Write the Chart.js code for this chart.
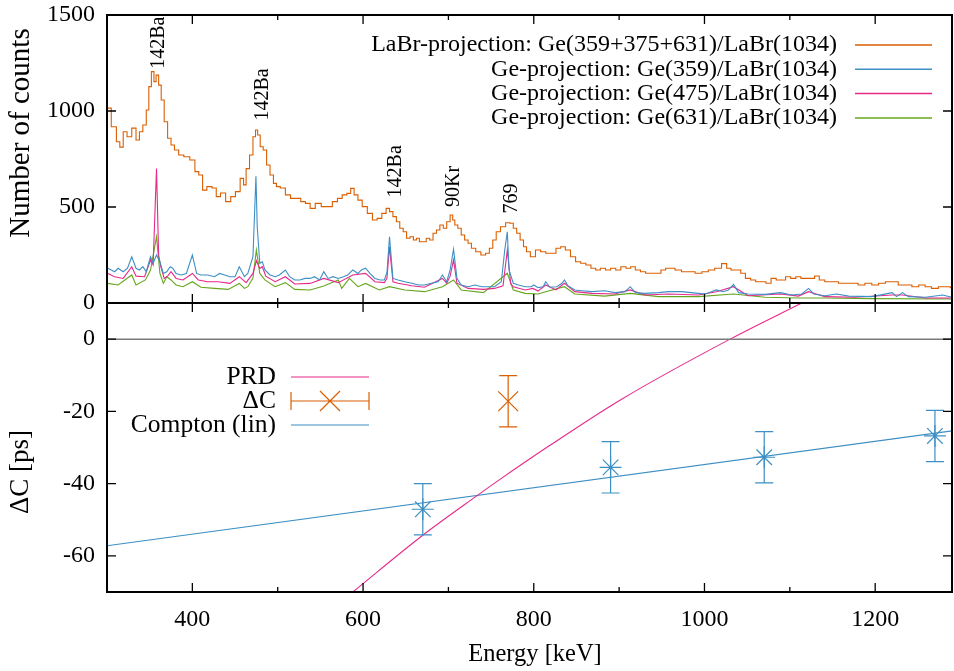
<!DOCTYPE html>
<html>
<head>
<meta charset="utf-8">
<script src="https://cdn.jsdelivr.net/npm/chart.js@4.4.1/dist/chart.umd.min.js"></script>
<style>
html,body{margin:0;padding:0;background:#fff;}
#wrap{position:relative;width:954px;height:671px;}
canvas{position:absolute;left:0;top:0;}
</style>
</head>
<body>
<div id="wrap">
<canvas id="spec" width="954" height="671"></canvas>
<canvas id="dc" width="954" height="671"></canvas>
</div>
<script>
// spectra (energy in keV, counts)
const orangeE = [301,309,313,317,321,326,332,336,340,344,
  348,350,354,356,359,362,365,369,373,377,
  381,387,393,401,405,410,414,420,426,430,
  436,442,448,453,459,461,465,469,473,475,
  478,481,485,489,493,497,500,506,512,518,
  524,530,535,541,547,555,561,567,573,578,
  584,587,592,596,602,608,614,619,625,629,
  633,637,641,645,649,653,657,661,664,668,
  672,676,680,684,688,692,696,700,704,706,
  709,713,717,721,725,729,735,741,746,750,
  754,758,764,770,774,778,782,786,790,793,
  799,805,811,817,823,829,834,840,846,852,
  858,864,870,875,881,887,893,899,905,911,
  916,922,928,934,940,946,952,957,962,969,
  977,985,993,1001,1008,1016,1024,1028,1034,1040,
  1045,1051,1057,1063,1069,1075,1081,1087,1092,1098,
  1104,1110,1116,1122,1126,1132,1137,1145,1153,1161,
  1169,1176,1184,1192,1200,1208,1216,1223,1231,1239,
  1247,1255,1262,1270,1278,1286,1290];
const orangeY = [1015,918,840,812,892,866,911,849,892,927,
  1005,1127,1205,1153,1187,1135,1057,944,858,823,
  797,771,762,745,684,667,588,606,599,554,
  573,528,554,580,649,615,700,771,866,901,
  875,814,797,719,667,623,606,599,563,545,
  545,528,519,493,519,502,502,528,545,563,
  571,597,563,536,502,467,432,441,467,493,
  476,450,423,389,371,337,345,328,337,319,
  319,337,328,363,380,406,389,423,458,432,
  406,389,354,328,311,285,267,250,259,285,
  328,371,397,418,415,389,363,328,293,267,
  241,276,267,259,259,285,293,276,241,215,
  207,198,181,172,181,172,181,172,189,181,
  189,172,163,155,155,155,172,181,181,172,
  163,163,155,163,172,181,205,181,172,172,
  155,128,120,111,111,103,128,120,120,137,
  128,137,128,128,128,141,120,111,111,103,
  103,103,94,103,94,103,111,111,94,94,
  85,94,85,76,85,85,80];

const blueE = [301,305,309,313,319,324,329,334,338,342,
  346,351,354,358,362,366,370,374,377,381,
  387,393,400,405,410,418,426,432,438,444,
  450,455,461,465,471,474.5,476,479,482,485,
  491,497,502,509,514,520,526,532,538,543,
  549,554,559,565,571,577,582,588,594,598,
  603,608,614,620,625,628,631,635,641,649,
  657,665,672,680,688,693,698,702,706,710,
  715,723,731,739,747,754,762,766,769,771,
  776,782,790,797,800,805,811,814,819,827,
  833,836,840,848,856,868,883,895,907,913,
  919,930,946,958,973,993,1001,1008,1014,1022,
  1028,1034,1040,1051,1071,1089,1102,1114,1122,1128,
  1141,1155,1169,1196,1220,1225,1232,1239,1259,1279,
  1290];
const blueY = [181,172,163,181,163,181,241,181,172,189,
  163,241,207,250,215,154,163,189,181,154,
  146,154,250,154,146,146,137,154,146,137,
  137,189,137,154,241,660,397,207,215,172,
  146,137,146,172,137,120,120,128,128,137,
  120,163,128,137,128,137,146,172,154,172,
  181,154,128,120,120,160,345,128,120,111,
  103,94,94,103,111,146,111,172,280,128,
  94,85,94,85,85,85,111,276,371,172,
  103,94,85,85,94,80,85,111,82,85,
  103,120,90,68,64,59,64,54,59,85,
  54,50,54,59,59,50,47,59,68,59,
  68,97,54,47,45,54,42,47,76,47,
  38,47,36,33,54,33,54,33,30,42,
  30];

const pinkE = [301,309,319,329,334,344,351,354,358,360.5,
  363,367,371,375,381,389,400,407,418,430,
  444,455,463,471,475,479,482,486,497,509,
  520,538,554,571,588,603,614,625,628,631,
  635,641,657,672,693,698,702,706,710,723,
  741,754,764,769,773,776,790,799,805,814,
  826,836,848,868,895,913,930,958,993,1014,
  1034,1051,1089,1110,1122,1141,1176,1220,1232,1259,
  1290];
const pinkY = [154,137,128,189,140,137,224,198,700,250,
  189,128,140,163,128,120,154,120,111,111,
  102,137,106,154,220,180,189,140,111,137,
  99,102,128,106,146,154,111,106,130,293,
  110,103,90,82,128,103,140,224,103,76,
  71,76,90,276,100,85,68,76,62,94,
  68,103,59,50,47,68,42,47,42,59,
  85,38,47,36,59,33,30,42,42,26,
  26];

const greenE = [301,313,329,334,345,351,358,362,366,370,
  375,381,389,400,410,426,442,455,461,465,
  471,475,479,485,497,509,520,538,554,571,
  575,584,594,603,619,631,649,672,693,706,
  715,741,769,776,790,805,814,836,848,883,
  913,946,993,1034,1071,1110,1141,1196,1290];
const greenY = [102,94,146,94,120,172,345,154,102,137,
  120,94,85,111,82,76,71,102,76,85,
  130,276,154,120,85,106,71,68,88,120,
  76,128,85,102,68,85,68,59,85,120,
  68,54,155,68,50,47,59,85,47,36,
  50,33,33,47,30,26,26,23,21];

const specLabels = ["LaBr-projection: Ge(359+375+631)/LaBr(1034)",
  "Ge-projection: Ge(359)/LaBr(1034)",
  "Ge-projection: Ge(475)/LaBr(1034)",
  "Ge-projection: Ge(631)/LaBr(1034)"];

// peak annotations (energy, counts at label foot)
const peakText = ["142Ba","142Ba","142Ba","90Kr","769"];
const peakE = [361, 482, 638, 706, 774];
const peakCounts = [1220, 950, 550, 500, 466];

// delta C panel
const prdE = [588, 670, 732, 760, 819, 901, 1030, 1114];
const prdDC = [-70, -54.3, -43.6, -38.9, -29.4, -16.9, 0, 10];
const comptonE = [300, 1290];
const comptonDC = [-57.2, -25.4];
const ptsE = [670, 890, 1070, 1270];
const ptsDC = [-47.1, -35.5, -32.7, -26.8];
const ptsErr = [7.1, 7.1, 7.1, 7.1];
const dcE = [770];
const dcVal = [-17.2];
const dcErr = [7.1];

// axis ticks
const energyTicks = [400,500,600,700,800,900,1000,1100,1200];
const countTicks = [0,500,1000,1500];
const dcTicks = [-60,-40,-20,0];

const ORANGE = "#d95f02", BLUE = "#3d8fc4", PINK = "#e7298a", GREEN = "#66a61e";
const FONT = '"Liberation Serif", "Times New Roman", serif';

Chart.defaults.font.family = FONT;
Chart.defaults.font.size = 24;
Chart.defaults.color = "#000";

const pts = (xs, ys) => xs.map((x, i) => ({ x: x, y: ys[i] }));
const setTicks = vals => s => { s.ticks = vals.map(v => ({ value: v })); };

// label gap comes from tickLength (hidden grid), so the scale adds no extra padding
function xAxis(showLabels, h){
    return {
        type:"linear", min:300, max:1290,
        grid:{display:false, drawTicks:true, tickLength:13},
        border:{display:false},
        ticks:{display:showLabels, autoSkip:false, maxRotation:0, padding:0,
            callback:v => v % 200 === 0 ? String(v) : ""},
        afterBuildTicks:setTicks(energyTicks),
        afterFit:s => { s.height = h; }
    };
}
function yAxis(min, max, vals){
    return {
        type:"linear", min:min, max:max,
        grid:{display:false, drawTicks:true, tickLength:12},
        border:{display:false},
        ticks:{padding:0, callback:v => String(v)},
        afterBuildTicks:setTicks(vals),
        afterFit:s => { s.width = 107; }
    };
}

// inward ticks + border (+ optional zero axis), like gnuplot
const frame = {
    id:"frame",
    afterDraw(chart, args, opts){
        const {ctx, chartArea:a, scales:{x, y}} = chart;
        ctx.save();
        if(opts.zero){
            const pz = y.getPixelForValue(0);
            ctx.strokeStyle = "#7a7a7a";
            ctx.lineWidth = 1.5;
            ctx.beginPath(); ctx.moveTo(a.left, pz); ctx.lineTo(a.right, pz); ctx.stroke();
        }
        ctx.strokeStyle = "#000";
        ctx.lineWidth = 1.3;
        ctx.beginPath();
        x.ticks.forEach(t => {
            const px = x.getPixelForValue(t.value);
            const len = t.value % 200 === 0 ? 9 : 5;
            ctx.moveTo(px, a.bottom); ctx.lineTo(px, a.bottom - len);
            ctx.moveTo(px, a.top); ctx.lineTo(px, a.top + len);
        });
        y.ticks.forEach(t => {
            const py = y.getPixelForValue(t.value);
            ctx.moveTo(a.left, py); ctx.lineTo(a.left + 9, py);
            ctx.moveTo(a.right, py); ctx.lineTo(a.right - 9, py);
        });
        ctx.stroke();
        ctx.lineWidth = 2;
        ctx.strokeRect(a.left, a.top, a.right - a.left, a.bottom - a.top);
        ctx.restore();
    }
};

const errorBars = {
    id:"errorBars",
    afterDatasetsDraw(chart){
        const {ctx, scales:{x, y}} = chart;
        chart.data.datasets.forEach(ds => {
            if(!ds.errors) return;
            ctx.save();
            ctx.strokeStyle = ds.borderColor;
            ctx.lineWidth = 1.2;
            ds.data.forEach((p, j) => {
                const px = x.getPixelForValue(p.x);
                const top = y.getPixelForValue(p.y + ds.errors[j]);
                const bot = y.getPixelForValue(p.y - ds.errors[j]);
                ctx.beginPath();
                ctx.moveTo(px, top); ctx.lineTo(px, bot);
                ctx.moveTo(px - 9, top); ctx.lineTo(px + 9, top);
                ctx.moveTo(px - 9, bot); ctx.lineTo(px + 9, bot);
                ctx.stroke();
            });
            ctx.restore();
        });
    }
};

const specDecor = {
    id:"specDecor",
    afterDraw(chart){
        const {ctx, scales:{x, y}} = chart;
        ctx.save();
        ctx.fillStyle = "#000";
        ctx.font = "20px " + FONT;
        ctx.textAlign = "left";
        ctx.textBaseline = "middle";
        peakText.forEach((t, i) => {
            ctx.save();
            ctx.translate(x.getPixelForValue(peakE[i]), y.getPixelForValue(peakCounts[i]));
            ctx.rotate(-Math.PI / 2);
            ctx.fillText(t, 0, 0);
            ctx.restore();
        });
        ctx.font = "24px " + FONT;
        ctx.textAlign = "right";
        chart.data.datasets.forEach((ds, i) => {
            const yy = 45 + i * 24.3;
            ctx.fillStyle = "#000";
            ctx.fillText(ds.label, 837, yy);
            ctx.strokeStyle = ds.borderColor;
            ctx.lineWidth = 1.5;
            ctx.beginPath(); ctx.moveTo(855, yy); ctx.lineTo(932, yy); ctx.stroke();
        });
        ctx.textAlign = "center";
        ctx.font = "29px " + FONT;
        ctx.translate(21, 133);
        ctx.rotate(-Math.PI / 2);
        ctx.fillText("Number of counts", 0, 0);
        ctx.restore();
    }
};

const dcDecor = {
    id:"dcDecor",
    afterDraw(chart){
        const ctx = chart.ctx;
        ctx.save();
        ctx.font = "25.5px " + FONT;
        ctx.fillStyle = "#000";
        ctx.textBaseline = "middle";
        ctx.textAlign = "right";
        ctx.fillText("PRD", 276, 377);
        ctx.fillText("\u0394C", 276, 401);
        ctx.fillText("Compton (lin)", 276, 425);
        ctx.lineWidth = 1.2;
        ctx.strokeStyle = PINK;
        ctx.beginPath(); ctx.moveTo(291, 377); ctx.lineTo(369, 377); ctx.stroke();
        ctx.strokeStyle = BLUE;
        ctx.beginPath(); ctx.moveTo(291, 425); ctx.lineTo(369, 425); ctx.stroke();
        ctx.strokeStyle = ORANGE;
        ctx.beginPath();
        ctx.moveTo(291, 401); ctx.lineTo(369, 401);
        ctx.moveTo(291, 392); ctx.lineTo(291, 410);
        ctx.moveTo(369, 392); ctx.lineTo(369, 410);
        ctx.moveTo(320, 391); ctx.lineTo(340, 411);
        ctx.moveTo(320, 411); ctx.lineTo(340, 391);
        ctx.stroke();
        ctx.textAlign = "center";
        ctx.font = "24.5px " + FONT;
        ctx.fillText("Energy [keV]", 535, 655);
        ctx.font = "27px " + FONT;
        ctx.translate(21, 472);
        ctx.rotate(-Math.PI / 2);
        ctx.fillText("\u0394C [ps]", 0, 0);
        ctx.restore();
    }
};

const lineDs = (label, xs, ys, color, stepped) => ({
    label, data:pts(xs, ys), showLine:true, borderColor:color, backgroundColor:color,
    borderWidth:1.1, pointRadius:0, tension:0, stepped:stepped
});

new Chart(document.getElementById("spec"), {
    type:"scatter",
    data:{
        datasets:[
            lineDs(specLabels[0], orangeE, orangeY, ORANGE, "middle"),
            lineDs(specLabels[1], blueE, blueY, BLUE, false),
            lineDs(specLabels[2], pinkE, pinkY, PINK, false),
            lineDs(specLabels[3], greenE, greenY, GREEN, false)
        ]
    },
    options:{
        responsive:false, animation:false, devicePixelRatio:1,
        layout:{autoPadding:false, padding:{top:15, right:2, left:0, bottom:0}},
        plugins:{legend:{display:false}, tooltip:{enabled:false}, frame:{zero:false}},
        scales:{
            x:xAxis(false, 368),
            y:yAxis(0, 1500, countTicks)
        }
    },
    plugins:[frame, specDecor]
});

const prdDs = lineDs("PRD", prdE, prdDC, PINK, false);
prdDs.cubicInterpolationMode = "monotone";

new Chart(document.getElementById("dc"), {
    type:"scatter",
    data:{
        datasets:[
            prdDs,
            lineDs("Compton (lin)", comptonE, comptonDC, BLUE, false),
            {
                label:"Compton points", data:pts(ptsE, ptsDC), errors:ptsErr,
                borderColor:BLUE, backgroundColor:BLUE, pointStyle:"star",
                pointRadius:11, pointBorderWidth:1.2, showLine:false
            },
            {
                label:"\u0394C", data:pts(dcE, dcVal), errors:dcErr,
                borderColor:ORANGE, backgroundColor:ORANGE, pointStyle:"crossRot",
                pointRadius:14, pointBorderWidth:1.2, showLine:false
            }
        ]
    },
    options:{
        responsive:false, animation:false, devicePixelRatio:1,
        layout:{autoPadding:false, padding:{top:303, right:2, left:0, bottom:0}},
        plugins:{legend:{display:false}, tooltip:{enabled:false}, frame:{zero:true}},
        scales:{
            x:xAxis(true, 79),
            y:yAxis(-70, 10, dcTicks)
        }
    },
    plugins:[frame, errorBars, dcDecor]
});
</script>
</body>
</html>
